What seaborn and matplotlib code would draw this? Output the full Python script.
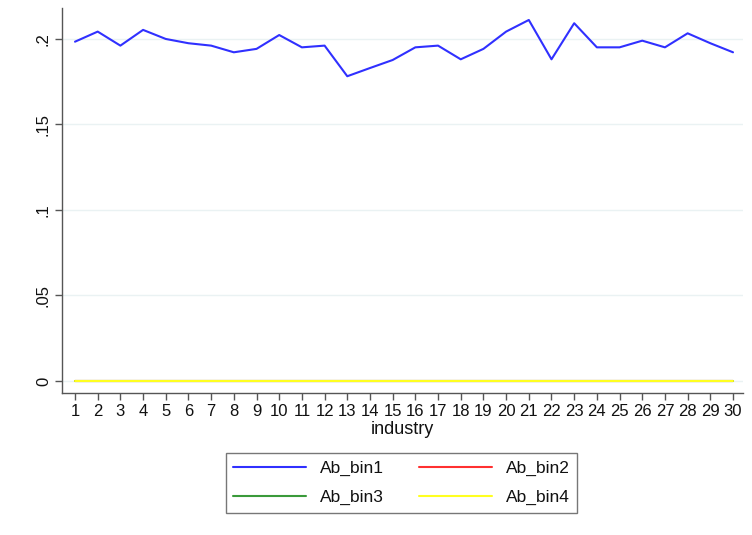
import numpy as np
import pandas as pd
import matplotlib
matplotlib.use("Agg")
import matplotlib.pyplot as plt
import seaborn as sns

# Mean share per industry for each abnormal-return bin
industry = list(range(1, 31))
ab_bin1 = [0.1984, 0.2043, 0.1961, 0.2053, 0.2000, 0.1975, 0.1961, 0.1922, 0.1942, 0.2023,
           0.1951, 0.1961, 0.1782, 0.1830, 0.1877, 0.1951, 0.1961, 0.1881, 0.1942, 0.2043,
           0.2111, 0.1881, 0.2092, 0.1951, 0.1951, 0.1990, 0.1951, 0.2033, 0.1975, 0.1922]
ab_bin2 = [0.0] * 30
ab_bin3 = [0.0] * 30
ab_bin4 = [0.0] * 30
series_names = ["Ab_bin1", "Ab_bin2", "Ab_bin3", "Ab_bin4"]
series_colors = ["#3030ff", "#ff3030", "#3a9a3a", "#ffff20"]
y_ticks = [0, 0.05, 0.1, 0.15, 0.2]
y_tick_labels = ["0", ".05", ".1", ".15", ".2"]

df = pd.DataFrame({
    "industry": industry * 4,
    "value": ab_bin1 + ab_bin2 + ab_bin3 + ab_bin4,
    "series": sum([[n] * 30 for n in series_names], []),
})

sns.set_theme(style="white")
plt.rcParams["font.family"] = ["Liberation Sans", "DejaVu Sans"]

fig = plt.figure(figsize=(7.52, 5.35), dpi=100)
ax = fig.add_axes([62 / 752, 1 - 393 / 535, (743 - 62) / 752, (393 - 8) / 535])

sns.lineplot(data=df, x="industry", y="value", hue="series", hue_order=series_names,
             palette=dict(zip(series_names, series_colors)), linewidth=1.5,
             ax=ax, legend=False, estimator=None)

ax.set_xlim(0.427, 30.44)
ax.set_ylim(-0.00701, 0.2181)
ax.set_xticks(industry)
ax.set_xticklabels([str(i) for i in industry], fontsize=12, color="#111111")
ax.set_yticks(y_ticks)
ax.set_yticklabels(y_tick_labels, fontsize=12, color="#111111", rotation=90, va="center")
ax.set_xlabel("industry", fontsize=13, color="#111111", labelpad=1)
ax.set_ylabel("")

for yt in y_ticks:
    ax.axhline(yt, color="#eaf2f3", linewidth=1.0, zorder=0)

for side in ["top", "right"]:
    ax.spines[side].set_visible(False)
for side in ["left", "bottom"]:
    ax.spines[side].set_color("#555555")
    ax.spines[side].set_linewidth(1.0)
ax.tick_params(axis="both", which="major", direction="out", length=5, width=1,
               color="#555555", left=True, bottom=True, pad=3)

# Row-wise legend order: bin1, bin2 on the first row, bin3, bin4 on the second
order = [0, 2, 1, 3]
handles = [plt.Line2D([], [], color=series_colors[i], linewidth=1.5) for i in order]
labels = [series_names[i] for i in order]
leg = fig.legend(handles, labels, loc="center", bbox_to_anchor=(0.534, 0.0972),
                 ncol=2, fontsize=12.5, frameon=True, fancybox=False,
                 handlelength=4.2, handletextpad=0.8, columnspacing=2.0,
                 borderpad=0.45, labelspacing=0.75)
leg.get_frame().set_edgecolor("#555555")
leg.get_frame().set_linewidth(1.0)
for t in leg.get_texts():
    t.set_color("#111111")

fig.savefig("out.png", dpi=100, facecolor="white")
